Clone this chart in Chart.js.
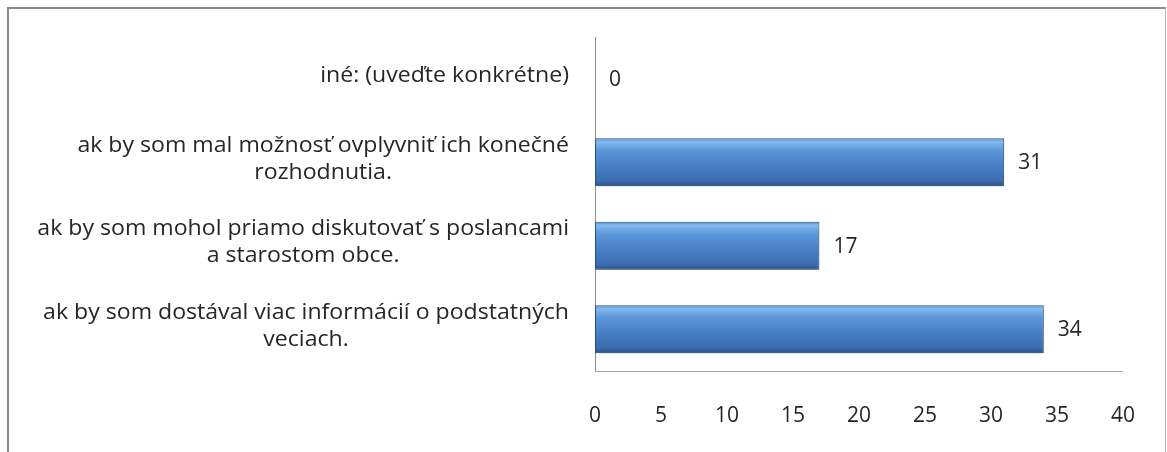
<!DOCTYPE html>
<html>
<head>
<meta charset="utf-8">
<script src="https://cdn.jsdelivr.net/npm/chart.js@4"></script>
<style>
body { margin: 0; background: #fff; }
#wrap { position: relative; width: 1167px; height: 452px; overflow: hidden; }
#frame { position: absolute; left: 7px; top: 7px; width: 1156px; height: 470px; border: 2px solid #8c8c8c; border-right: 1px solid #b4b4b4; }
#box { position: absolute; left: 0; top: 0; width: 1167px; height: 452px; }
</style>
</head>
<body>
<div id="wrap">
  <div id="frame"></div>
  <div id="box"><canvas id="chart"></canvas></div>
</div>
<script>
// categories top to bottom, each one split into its lines
const categories = [
  ['iné: (uveďte konkrétne)'],
  ['ak by som mal možnosť ovplyvniť ich konečné', 'rozhodnutia.'],
  ['ak by som mohol priamo diskutovať s poslancami', 'a starostom obce.'],
  ['ak by som dostával viac informácií o podstatných', 'veciach.']
];
const values = [0, 31, 17, 34];
const xMin = 0;
const xMax = 40;
const xStep = 5;

const FONT = '"Open Sans", sans-serif';
const TEXT_COLOR = '#262626';
const BAR_FRAC = 0.575;
const LINE_H = 27;
const STRETCH = 1.1; // source font is wider than anything installed

// category labels: block right aligned, lines centred inside the block
const categoryLabels = {
  id: 'categoryLabels',
  afterDraw(chart) {
    const ctx = chart.ctx;
    const y = chart.scales.y;
    const rightEdge = y.right - 26;
    ctx.save();
    ctx.font = '21px ' + FONT;
    ctx.fillStyle = TEXT_COLOR;
    ctx.textAlign = 'center';
    ctx.textBaseline = 'middle';
    categories.forEach((lines, i) => {
      const w = Math.max(...lines.map(l => ctx.measureText(l).width)) * STRETCH;
      const cx = rightEdge - w / 2;
      const cy = y.getPixelForValue(i) - 3;
      const top = cy - (lines.length - 1) * LINE_H / 2;
      lines.forEach((l, k) => {
        ctx.save();
        ctx.translate(cx, top + k * LINE_H);
        ctx.scale(STRETCH, 1);
        ctx.fillText(l, 0, 0);
        ctx.restore();
      });
    });
    ctx.restore();
  }
};

const barShadow = {
  id: 'barShadow',
  beforeDatasetsDraw(chart) {
    const ctx = chart.ctx;
    ctx.save();
    ctx.shadowColor = 'rgba(0,0,0,0.35)';
    ctx.shadowBlur = 5;
    ctx.shadowOffsetY = 3;
  },
  afterDatasetsDraw(chart) {
    chart.ctx.restore();
  }
};

const valueLabels = {
  id: 'valueLabels',
  afterDatasetsDraw(chart) {
    const ctx = chart.ctx;
    const meta = chart.getDatasetMeta(0);
    ctx.save();
    ctx.font = '21px ' + FONT;
    ctx.fillStyle = TEXT_COLOR;
    ctx.textAlign = 'left';
    ctx.textBaseline = 'middle';
    meta.data.forEach((bar, i) => {
      ctx.fillText(String(values[i]), bar.x + 14, bar.y + 1);
    });
    ctx.restore();
  }
};

function barFill(context) {
  const chart = context.chart;
  const area = chart.chartArea;
  if (!area) return '#4a80c6';
  const c = chart.scales.y.getPixelForValue(context.dataIndex);
  const half = (area.bottom - area.top) / categories.length * BAR_FRAC / 2;
  const g = chart.ctx.createLinearGradient(0, c - half, 0, c + half);
  g.addColorStop(0, '#4a82c6');
  g.addColorStop(0.07, '#86bbf0');
  g.addColorStop(0.25, '#5c97da');
  g.addColorStop(0.55, '#4a80c6');
  g.addColorStop(0.88, '#3b6db0');
  g.addColorStop(1, '#28528a');
  return g;
}

new Chart(document.getElementById('chart'), {
  type: 'bar',
  data: {
    labels: categories.map(l => l.join(' ')),
    datasets: [{
      data: values,
      backgroundColor: barFill,
      borderColor: '#2f5b92',
      borderWidth: 1,
      borderSkipped: false,
      categoryPercentage: BAR_FRAC,
      barPercentage: 1
    }]
  },
  options: {
    indexAxis: 'y',
    responsive: true,
    maintainAspectRatio: false,
    animation: false,
    layout: { padding: { left: 0, right: 40, top: 37, bottom: 0 } },
    plugins: {
      legend: { display: false },
      tooltip: { enabled: false }
    },
    scales: {
      x: {
        min: xMin,
        max: xMax,
        ticks: { stepSize: xStep, padding: 32, color: TEXT_COLOR, font: { family: FONT, size: 21 } },
        grid: { display: false, drawTicks: false },
        border: { display: true, color: '#a6a6a6', width: 1 },
        afterFit(s) { s.height = 81; }
      },
      y: {
        ticks: { display: false },
        grid: { display: false, drawTicks: false },
        border: { display: true, color: '#8c8c8c', width: 1 },
        afterFit(s) { s.width = 595; }
      }
    }
  },
  plugins: [barShadow, valueLabels, categoryLabels]
});
</script>
</body>
</html>
